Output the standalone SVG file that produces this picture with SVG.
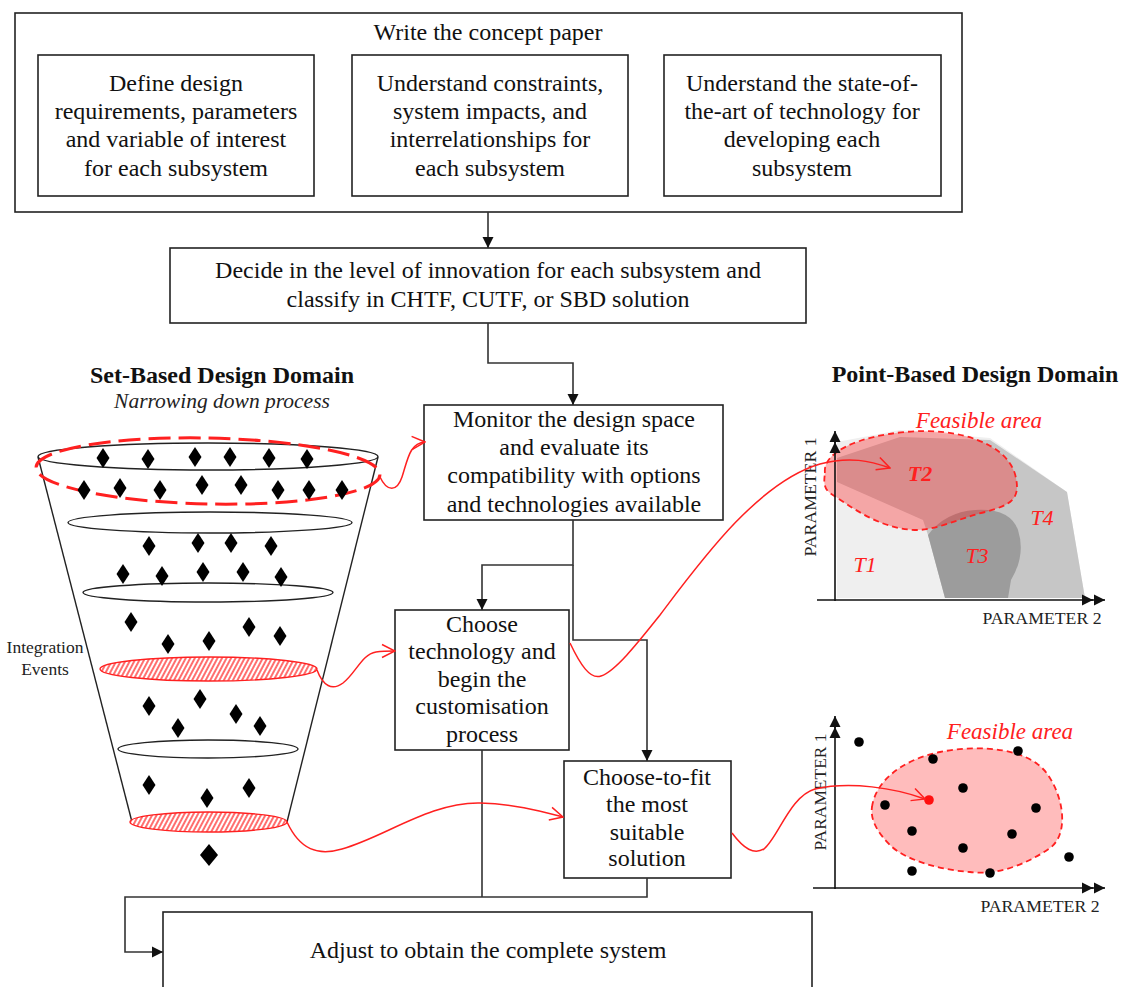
<svg xmlns="http://www.w3.org/2000/svg" xmlns:xlink="http://www.w3.org/1999/xlink" width="1126" height="987" viewBox="0 0 1126 987">
  <style>
    .box { fill: #ffffff; stroke: #222222; stroke-width: 1.6; }
    .txt { font-family: "Liberation Serif", "Times New Roman", serif; font-size: 24px; fill: #111111; text-anchor: middle; }
    .title { font-family: "Liberation Serif", "Times New Roman", serif; font-size: 24px; font-weight: bold; fill: #111111; text-anchor: middle; }
    .sub { font-family: "Liberation Serif", "Times New Roman", serif; font-size: 21.5px; font-style: italic; fill: #222222; text-anchor: middle; }
    .small { font-family: "Liberation Serif", "Times New Roman", serif; font-size: 17.5px; fill: #222222; text-anchor: middle; }
    .axlab { font-family: "Liberation Serif", "Times New Roman", serif; font-size: 16px; fill: #222222; text-anchor: middle; }
    .red { font-family: "Liberation Serif", "Times New Roman", serif; font-size: 23px; font-style: italic; fill: #ff2020; text-anchor: middle; }
    .tlab { font-family: "Liberation Serif", "Times New Roman", serif; font-size: 22px; font-style: italic; fill: #ff2020; text-anchor: middle; }
    .conn { fill: none; stroke: #333333; stroke-width: 1.6; }
    .rconn { fill: none; stroke: #ff2020; stroke-width: 1.5; }
    .funnel { fill: none; stroke: #222222; stroke-width: 1.4; }
    .hatch { fill: url(#hatch); stroke: #ff2020; stroke-width: 1.4; }
    .axis { fill: none; stroke: #111111; stroke-width: 1.6; }
    .dot { fill: #000000; }
  </style>
  <defs>
    <marker id="arrowBlk" viewBox="-12 -7 13 14" refX="0" refY="0" markerWidth="13" markerHeight="14" markerUnits="userSpaceOnUse" orient="auto">
      <path d="M-11,-5.5 L0,0 L-11,5.5 Z" fill="#111111"/>
    </marker>
    <marker id="arrowRed" viewBox="-14 -8 15 16" refX="0" refY="0" markerWidth="15" markerHeight="16" markerUnits="userSpaceOnUse" orient="auto">
      <path d="M-13,-6.5 L0,0 L-13,6.5" fill="none" stroke="#ff2020" stroke-width="1.5"/>
    </marker>
    <pattern id="hatch" patternUnits="userSpaceOnUse" width="4" height="4" patternTransform="rotate(28)">
      <rect width="4" height="4" fill="#ffffff"/>
      <line x1="1" y1="0" x2="1" y2="4" stroke="#ff2020" stroke-width="1.3"/>
    </pattern>
    <path id="dm" d="M0,-10 L6.5,0 L0,10 L-6.5,0 Z" fill="#000000"/>
  </defs>

  <rect width="1126" height="987" fill="#ffffff"/>

  <!-- concept paper block -->
  <g id="concept-paper">
    <rect class="box" x="15" y="13" width="947" height="199"/>
    <text class="txt" x="488" y="40">Write the concept paper</text>
  </g>
  <g id="define-requirements">
    <rect class="box" x="38" y="55" width="276" height="141"/>
    <text class="txt" x="176" y="91">Define design</text>
    <text class="txt" x="176" y="119">requirements, parameters</text>
    <text class="txt" x="176" y="147">and variable of interest</text>
    <text class="txt" x="176" y="176">for each subsystem</text>
  </g>
  <g id="understand-constraints">
    <rect class="box" x="352" y="55" width="276" height="141"/>
    <text class="txt" x="490" y="91">Understand constraints,</text>
    <text class="txt" x="490" y="119">system impacts, and</text>
    <text class="txt" x="490" y="147">interrelationships for</text>
    <text class="txt" x="490" y="176">each subsystem</text>
  </g>
  <g id="state-of-the-art">
    <rect class="box" x="664" y="55" width="277" height="141"/>
    <text class="txt" x="802" y="91">Understand the state-of-</text>
    <text class="txt" x="802" y="119">the-art of technology for</text>
    <text class="txt" x="802" y="147">developing each</text>
    <text class="txt" x="802" y="176">subsystem</text>
  </g>

  <g id="decide-innovation">
    <rect class="box" x="170" y="248" width="636" height="75"/>
    <text class="txt" x="488" y="278">Decide in the level of innovation for each subsystem and</text>
    <text class="txt" x="488" y="307">classify in CHTF, CUTF, or SBD solution</text>
  </g>

  <g id="monitor-design-space">
    <rect class="box" x="424" y="405" width="299" height="115"/>
    <text class="txt" x="574" y="427">Monitor the design space</text>
    <text class="txt" x="574" y="455">and evaluate its</text>
    <text class="txt" x="574" y="483">compatibility with options</text>
    <text class="txt" x="574" y="512">and technologies available</text>
  </g>

  <g id="choose-technology">
    <rect class="box" x="395" y="610" width="174" height="140"/>
    <text class="txt" x="482" y="632">Choose</text>
    <text class="txt" x="482" y="659">technology and</text>
    <text class="txt" x="482" y="687">begin the</text>
    <text class="txt" x="482" y="714">customisation</text>
    <text class="txt" x="482" y="742">process</text>
  </g>

  <g id="choose-to-fit">
    <rect class="box" x="564" y="761" width="167" height="117"/>
    <text class="txt" x="647" y="785">Choose-to-fit</text>
    <text class="txt" x="647" y="812">the most</text>
    <text class="txt" x="647" y="840">suitable</text>
    <text class="txt" x="647" y="866">solution</text>
  </g>

  <g id="adjust-system">
    <rect class="box" x="163" y="912" width="649" height="90"/>
    <text class="txt" x="488" y="958">Adjust to obtain the complete system</text>
  </g>

  <!-- set-based funnel -->
  <g id="set-based-domain">
    <text class="title" x="222" y="383">Set-Based Design Domain</text>
    <text class="sub" x="222" y="408">Narrowing down process</text>
    <line class="funnel" x1="38" y1="457" x2="132" y2="822"/>
    <line class="funnel" x1="378" y1="457" x2="287" y2="822"/>
    <ellipse class="funnel" cx="208" cy="456.5" rx="170" ry="13.5" fill="#ffffff"/>
    <ellipse class="funnel" cx="210" cy="522.5" rx="142" ry="10.5" fill="#ffffff"/>
    <ellipse class="funnel" cx="208" cy="592.5" rx="125" ry="9.5" fill="#ffffff"/>
    <ellipse class="hatch" cx="208.5" cy="669" rx="108.5" ry="12"/>
    <ellipse class="funnel" cx="208" cy="749" rx="90" ry="9" fill="#ffffff"/>
    <ellipse class="hatch" cx="208.5" cy="822" rx="78.5" ry="10"/>
    <ellipse cx="208" cy="471" rx="172" ry="33" fill="none" stroke="#ff2020" stroke-width="3" stroke-dasharray="22 8" transform="rotate(1.2 208 471)"/>
    <g id="design-options">
      <use xlink:href="#dm" x="103" y="458"/>
      <use xlink:href="#dm" x="148" y="459"/>
      <use xlink:href="#dm" x="195" y="457"/>
      <use xlink:href="#dm" x="230" y="457"/>
      <use xlink:href="#dm" x="269" y="458"/>
      <use xlink:href="#dm" x="307" y="459"/>
      <use xlink:href="#dm" x="84" y="490"/>
      <use xlink:href="#dm" x="120" y="488"/>
      <use xlink:href="#dm" x="160" y="490"/>
      <use xlink:href="#dm" x="202" y="485"/>
      <use xlink:href="#dm" x="241" y="485"/>
      <use xlink:href="#dm" x="278" y="490"/>
      <use xlink:href="#dm" x="309" y="490"/>
      <use xlink:href="#dm" x="342" y="490"/>
      <use xlink:href="#dm" x="149" y="546"/>
      <use xlink:href="#dm" x="198" y="543"/>
      <use xlink:href="#dm" x="231" y="543"/>
      <use xlink:href="#dm" x="271" y="546"/>
      <use xlink:href="#dm" x="123" y="574"/>
      <use xlink:href="#dm" x="162" y="576"/>
      <use xlink:href="#dm" x="203" y="572"/>
      <use xlink:href="#dm" x="243" y="572"/>
      <use xlink:href="#dm" x="281" y="577"/>
      <use xlink:href="#dm" x="131" y="622"/>
      <use xlink:href="#dm" x="249" y="627"/>
      <use xlink:href="#dm" x="280" y="636"/>
      <use xlink:href="#dm" x="168" y="644"/>
      <use xlink:href="#dm" x="209" y="641"/>
      <use xlink:href="#dm" x="149" y="706"/>
      <use xlink:href="#dm" x="200" y="699"/>
      <use xlink:href="#dm" x="236" y="714"/>
      <use xlink:href="#dm" x="178" y="728"/>
      <use xlink:href="#dm" x="260" y="726"/>
      <use xlink:href="#dm" x="149" y="785"/>
      <use xlink:href="#dm" x="207" y="798"/>
      <use xlink:href="#dm" x="249" y="788"/>
      <path d="M209,844 L218,855 L209,866 L200,855 Z" fill="#000000"/>
    </g>
    <text class="small" x="45" y="653">Integration</text>
    <text class="small" x="45" y="675">Events</text>
  </g>

  <!-- point-based technology map -->
  <g id="point-based-domain">
    <text class="title" x="975" y="382">Point-Based Design Domain</text>
    <polygon points="837,442 900,430 990,438 1067,492 1085,598 837,598" fill="#efefef"/>
    <polygon points="837,458 900,437 990,440 1067,492 1085,598 945,598 928,535 923,520 837,482" fill="#c6c6c6"/>
    <path d="M928,535 Q945,512 975,510 Q1010,508 1018,530 Q1026,555 1011,580 L1008,598 L945,598 Z" fill="#9c9c9c"/>
    <path d="M825,473 C822,452 860,436 905,432 C960,427 1006,444 1015,474 C1022,500 1010,505 985,512 C960,518 940,529 918,530 C880,530 850,506 830,493 C823,488 824,480 825,473 Z" fill="#ff2020" fill-opacity="0.35" stroke="#ff2020" stroke-width="1.8" stroke-dasharray="6 4"/>
    <text class="red" x="979" y="428">Feasible area</text>
    <text class="tlab" x="920" y="481" font-weight="bold">T2</text>
    <text class="tlab" x="865" y="572">T1</text>
    <text class="tlab" x="977" y="563">T3</text>
    <text class="tlab" x="1042" y="525">T4</text>
    <line class="axis" x1="835" y1="601" x2="835" y2="442" marker-end="url(#arrowBlk)"/>
    <line class="axis" x1="817" y1="600" x2="1093" y2="600" marker-end="url(#arrowBlk)"/>
    <line class="axis" x1="835" y1="443" x2="835" y2="431" marker-end="url(#arrowBlk)"/>
    <line class="axis" x1="1090" y1="600" x2="1105" y2="600" marker-end="url(#arrowBlk)"/>
    <text class="axlab" x="1042" y="624" textLength="119" lengthAdjust="spacingAndGlyphs">PARAMETER 2</text>
    <text class="axlab" transform="translate(816 497) rotate(-90)" textLength="119" lengthAdjust="spacingAndGlyphs">PARAMETER 1</text>
  </g>

  <!-- point-based candidate solutions -->
  <g id="solution-map">
    <path d="M872,807 C875,783 900,760 940,752 C980,744 1030,748 1048,775 C1065,800 1068,835 1050,848 C1030,862 1000,876 970,872 C940,870 905,860 890,845 C878,833 870,820 872,807 Z" fill="#ff2020" fill-opacity="0.3" stroke="#ff2020" stroke-width="1.8" stroke-dasharray="6 4"/>
    <text class="red" x="1010" y="739">Feasible area</text>
    <circle class="dot" cx="859" cy="742" r="4.8"/>
    <circle class="dot" cx="933" cy="759" r="4.8"/>
    <circle class="dot" cx="1018" cy="751" r="4.8"/>
    <circle class="dot" cx="963" cy="788" r="4.8"/>
    <circle class="dot" cx="885" cy="805" r="4.8"/>
    <circle class="dot" cx="1036" cy="808" r="4.8"/>
    <circle class="dot" cx="912" cy="831" r="4.8"/>
    <circle class="dot" cx="1012" cy="834" r="4.8"/>
    <circle class="dot" cx="963" cy="848" r="4.8"/>
    <circle class="dot" cx="1069" cy="857" r="4.8"/>
    <circle class="dot" cx="912" cy="871" r="4.8"/>
    <circle class="dot" cx="990" cy="873" r="4.8"/>
    <circle cx="929" cy="800" r="4.8" fill="#ff1010"/>
    <line class="axis" x1="835" y1="889" x2="835" y2="727" marker-end="url(#arrowBlk)"/>
    <line class="axis" x1="813" y1="888" x2="1093" y2="888" marker-end="url(#arrowBlk)"/>
    <line class="axis" x1="835" y1="728" x2="835" y2="716" marker-end="url(#arrowBlk)"/>
    <line class="axis" x1="1090" y1="888" x2="1105" y2="888" marker-end="url(#arrowBlk)"/>
    <text class="axlab" x="1040" y="912" textLength="119" lengthAdjust="spacingAndGlyphs">PARAMETER 2</text>
    <text class="axlab" transform="translate(826 792) rotate(-90)" textLength="117" lengthAdjust="spacingAndGlyphs">PARAMETER 1</text>
  </g>

  <!-- process flow connectors -->
  <g id="connectors">
    <path class="conn" d="M488,212 L488,248" marker-end="url(#arrowBlk)"/>
    <path class="conn" d="M488,323 L488,363 L573,363 L573,405" marker-end="url(#arrowBlk)"/>
    <path class="conn" d="M573,520 L573,565 L482,565 L482,610" marker-end="url(#arrowBlk)"/>
    <path class="conn" d="M573,565 L573,640 L647,640 L647,761" marker-end="url(#arrowBlk)"/>
    <path class="conn" d="M482,750 L482,897"/>
    <path class="conn" d="M647,878 L647,897 L125,897 L125,952 L163,952" marker-end="url(#arrowBlk)"/>

    <path class="rconn" d="M380,477 C387,492 397,492 402,477 C408,458 410,443 425,442" marker-end="url(#arrowRed)"/>
    <path class="rconn" d="M317,670 C323,686 332,691 343,683 C356,673 362,654 376,652 C383,651 389,651 395,651" marker-end="url(#arrowRed)"/>
    <path class="rconn" d="M287,822 C300,850 318,856 342,849 C385,837 430,802 480,803 C515,804 540,811 563,817" marker-end="url(#arrowRed)"/>
    <path class="rconn" d="M570,643 C580,664 590,680 601,676 C616,671 640,640 660,615 C700,562 758,482 820,464 C850,456 870,461 890,468" marker-end="url(#arrowRed)"/>
    <path class="rconn" d="M732,833 C744,849 754,855 764,849 C778,838 790,796 815,789 C850,781 895,788 925,799" marker-end="url(#arrowRed)"/>
  </g>
</svg>
